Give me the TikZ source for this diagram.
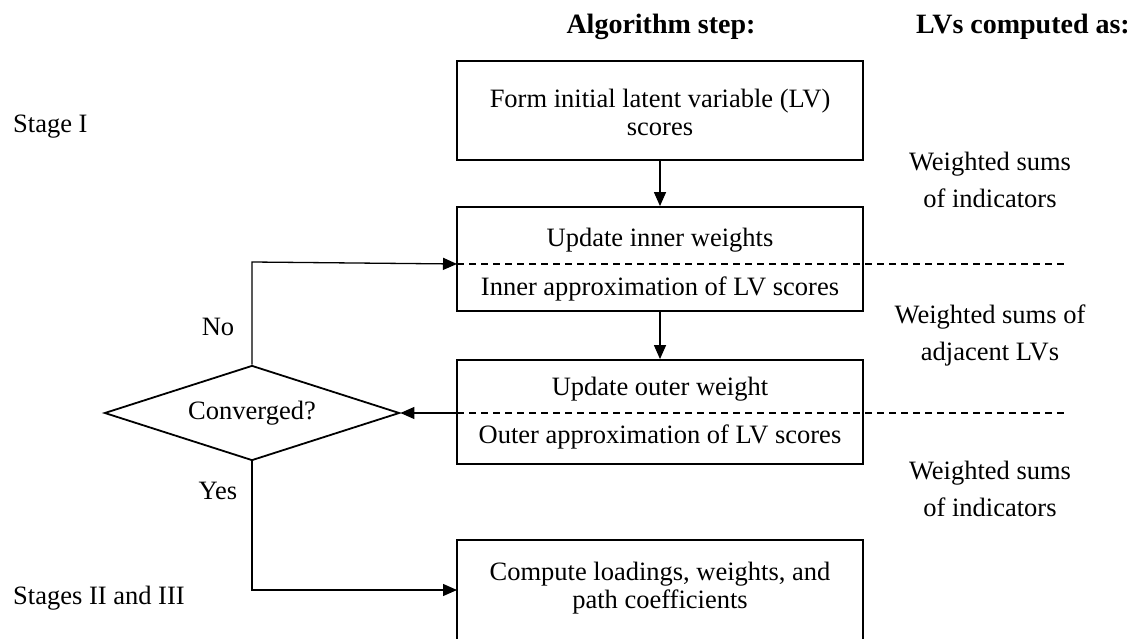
\documentclass[tikz,border=0pt]{standalone}
\usepackage{fontspec}
\setmainfont{Liberation Serif}
\usetikzlibrary{arrows.meta,shapes.geometric}
\begin{document}
\begin{tikzpicture}[x=1pt,y=-1pt,
  txt/.style={font=\fontsize{26.5}{28}\selectfont, inner sep=0pt, align=center},
  hdr/.style={font=\fontsize{28}{30}\selectfont\bfseries, inner sep=0pt},
  side/.style={font=\fontsize{26.5}{37}\selectfont, inner sep=0pt, align=center},
  stepbox/.style={draw, line width=1.8pt, minimum width=406pt, inner sep=0pt},
  conn/.style={line width=1.3pt, -{Triangle[length=14pt,width=12pt]}},
  sep/.style={line width=1.3pt, dash pattern=on 7pt off 5pt}]
\useasboundingbox (0,0) rectangle (1130,639);
% headers
\node[hdr] (h1) at (661,27) {Algorithm step:};
\node[hdr] (h2) at (1023,27) {LVs computed as:};
% stage labels
\node[txt, anchor=west] (st1) at (13,127) {Stage I};
\node[txt, anchor=west] (st2) at (13,598) {Stages II and III};
% boxes
\node[stepbox, minimum height=99pt] (b1) at (660,110.5) {};
\node[txt] (t1) at (660,112) {Form initial latent variable (LV)\\scores};
\node[stepbox, minimum height=104pt] (b2) at (660,259) {};
\node[txt] (t2a) at (660,240) {Update inner weights};
\node[txt] (t2b) at (660,289) {Inner approximation of LV scores};
\node[stepbox, minimum height=104pt] (b3) at (660,412) {};
\node[txt] (t3a) at (660,389) {Update outer weight};
\node[txt] (t3b) at (660,437) {Outer approximation of LV scores};
\node[stepbox, minimum height=110pt, anchor=north] (b4) at (660,539) {};
\node[txt] (t4) at (660,588) {Compute loadings, weights, and\\path coefficients};
% diamond
\node[draw, diamond, line width=1.8pt, minimum width=295pt, minimum height=95pt, inner sep=0pt, aspect=3] (dm) at (252,413) {};
\node[txt] (dmt) at (252,413) {Converged?};
% side texts
\node[side] (r1) at (990,180) {Weighted sums\\of indicators};
\node[side] (r2) at (990,335) {Weighted sums of\\adjacent LVs};
\node[side] (r3) at (990,489) {Weighted sums\\of indicators};
% labels
\node[txt] (no) at (218,327) {No};
\node[txt] (yes) at (218,491) {Yes};
% separators
\coordinate (s1) at (457,264);
\coordinate (e1) at (1067,264);
\coordinate (s2) at (457,413);
\coordinate (e2) at (1067,413);
\draw[sep] (s1) -- (e1);
\draw[sep] (s2) -- (e2);
% connectors
\draw[conn] (b1.south) -- (b2.north);
\draw[conn] (b2.south) -- (b3.north);
\coordinate (c1) at (252,262);
\draw[conn] (dm.north) -- (c1) -- (s1);
\draw[conn] (s2) -- (dm.east);
\coordinate (c2) at (252,590);
\coordinate (s4) at (457,590);
\draw[conn] (dm.south) -- (c2) -- (s4);
\end{tikzpicture}
\end{document}
